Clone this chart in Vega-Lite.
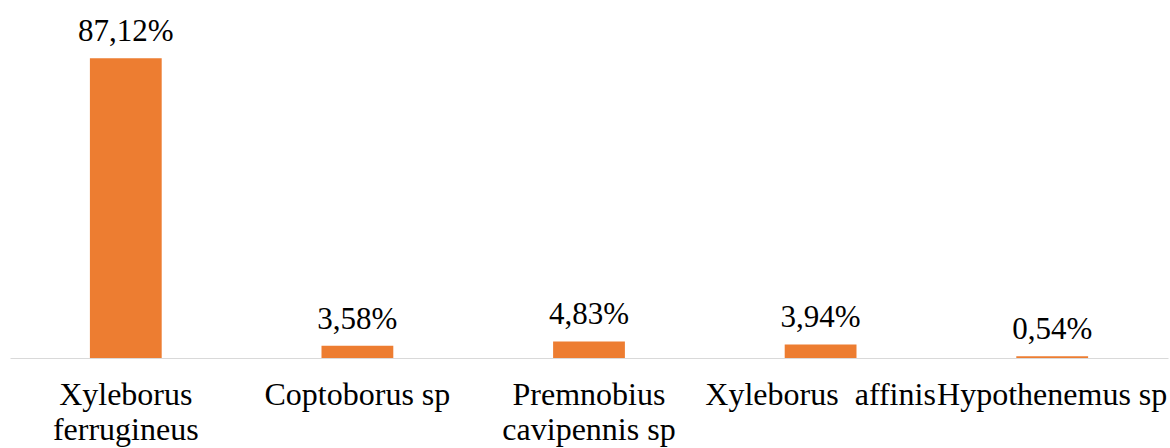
{
  "$schema": "https://vega.github.io/schema/vega-lite/v6.json",
  "width": 1158,
  "height": 344,
  "autosize": {"type": "none"},
  "padding": {"left": 10, "top": 14, "right": 2, "bottom": 90},
  "background": "white",
  "config": {"view": {"stroke": null}, "font": "Times New Roman, Liberation Serif, serif"},
  "data": {
    "values": [
      {"species": "Xyleborus ferrugineus", "pct": 87.12, "label": "87,12%"},
      {"species": "Coptoborus sp", "pct": 3.58, "label": "3,58%"},
      {"species": "Premnobius cavipennis sp", "pct": 4.83, "label": "4,83%"},
      {"species": "Xyleborus\u00a0 affinis", "pct": 3.94, "label": "3,94%"},
      {"species": "Hypothenemus sp", "pct": 0.54, "label": "0,54%"}
    ]
  },
  "encoding": {
    "x": {
      "field": "species",
      "type": "nominal",
      "sort": null,
      "scale": {"paddingInner": 0.69, "paddingOuter": 0.345},
      "axis": {
        "title": null,
        "domain": true,
        "domainColor": "#d9d9d9",
        "domainWidth": 1,
        "ticks": false,
        "labelAngle": 0,
        "labelFont": "Times New Roman, Liberation Serif, serif",
        "labelFontSize": 32,
        "labelColor": "#000000",
        "labelPadding": 21,
        "labelLineHeight": 35,
        "labelOverlap": false,
        "labelBound": false,
        "labelLimit": 0,
        "labelExpr": "datum.label == 'Xyleborus ferrugineus' ? ['Xyleborus', 'ferrugineus'] : datum.label == 'Premnobius cavipennis sp' ? ['Premnobius', 'cavipennis sp'] : datum.label"
      }
    },
    "y": {
      "field": "pct",
      "type": "quantitative",
      "scale": {"domain": [0, 100], "nice": false},
      "axis": null
    }
  },
  "layer": [
    {"mark": {"type": "bar", "color": "#ED7D31"}},
    {
      "mark": {"type": "text", "font": "Times New Roman, Liberation Serif, serif", "fontSize": 31, "color": "#000000", "baseline": "alphabetic", "dy": -17},
      "encoding": {"text": {"field": "label"}}
    }
  ]
}
